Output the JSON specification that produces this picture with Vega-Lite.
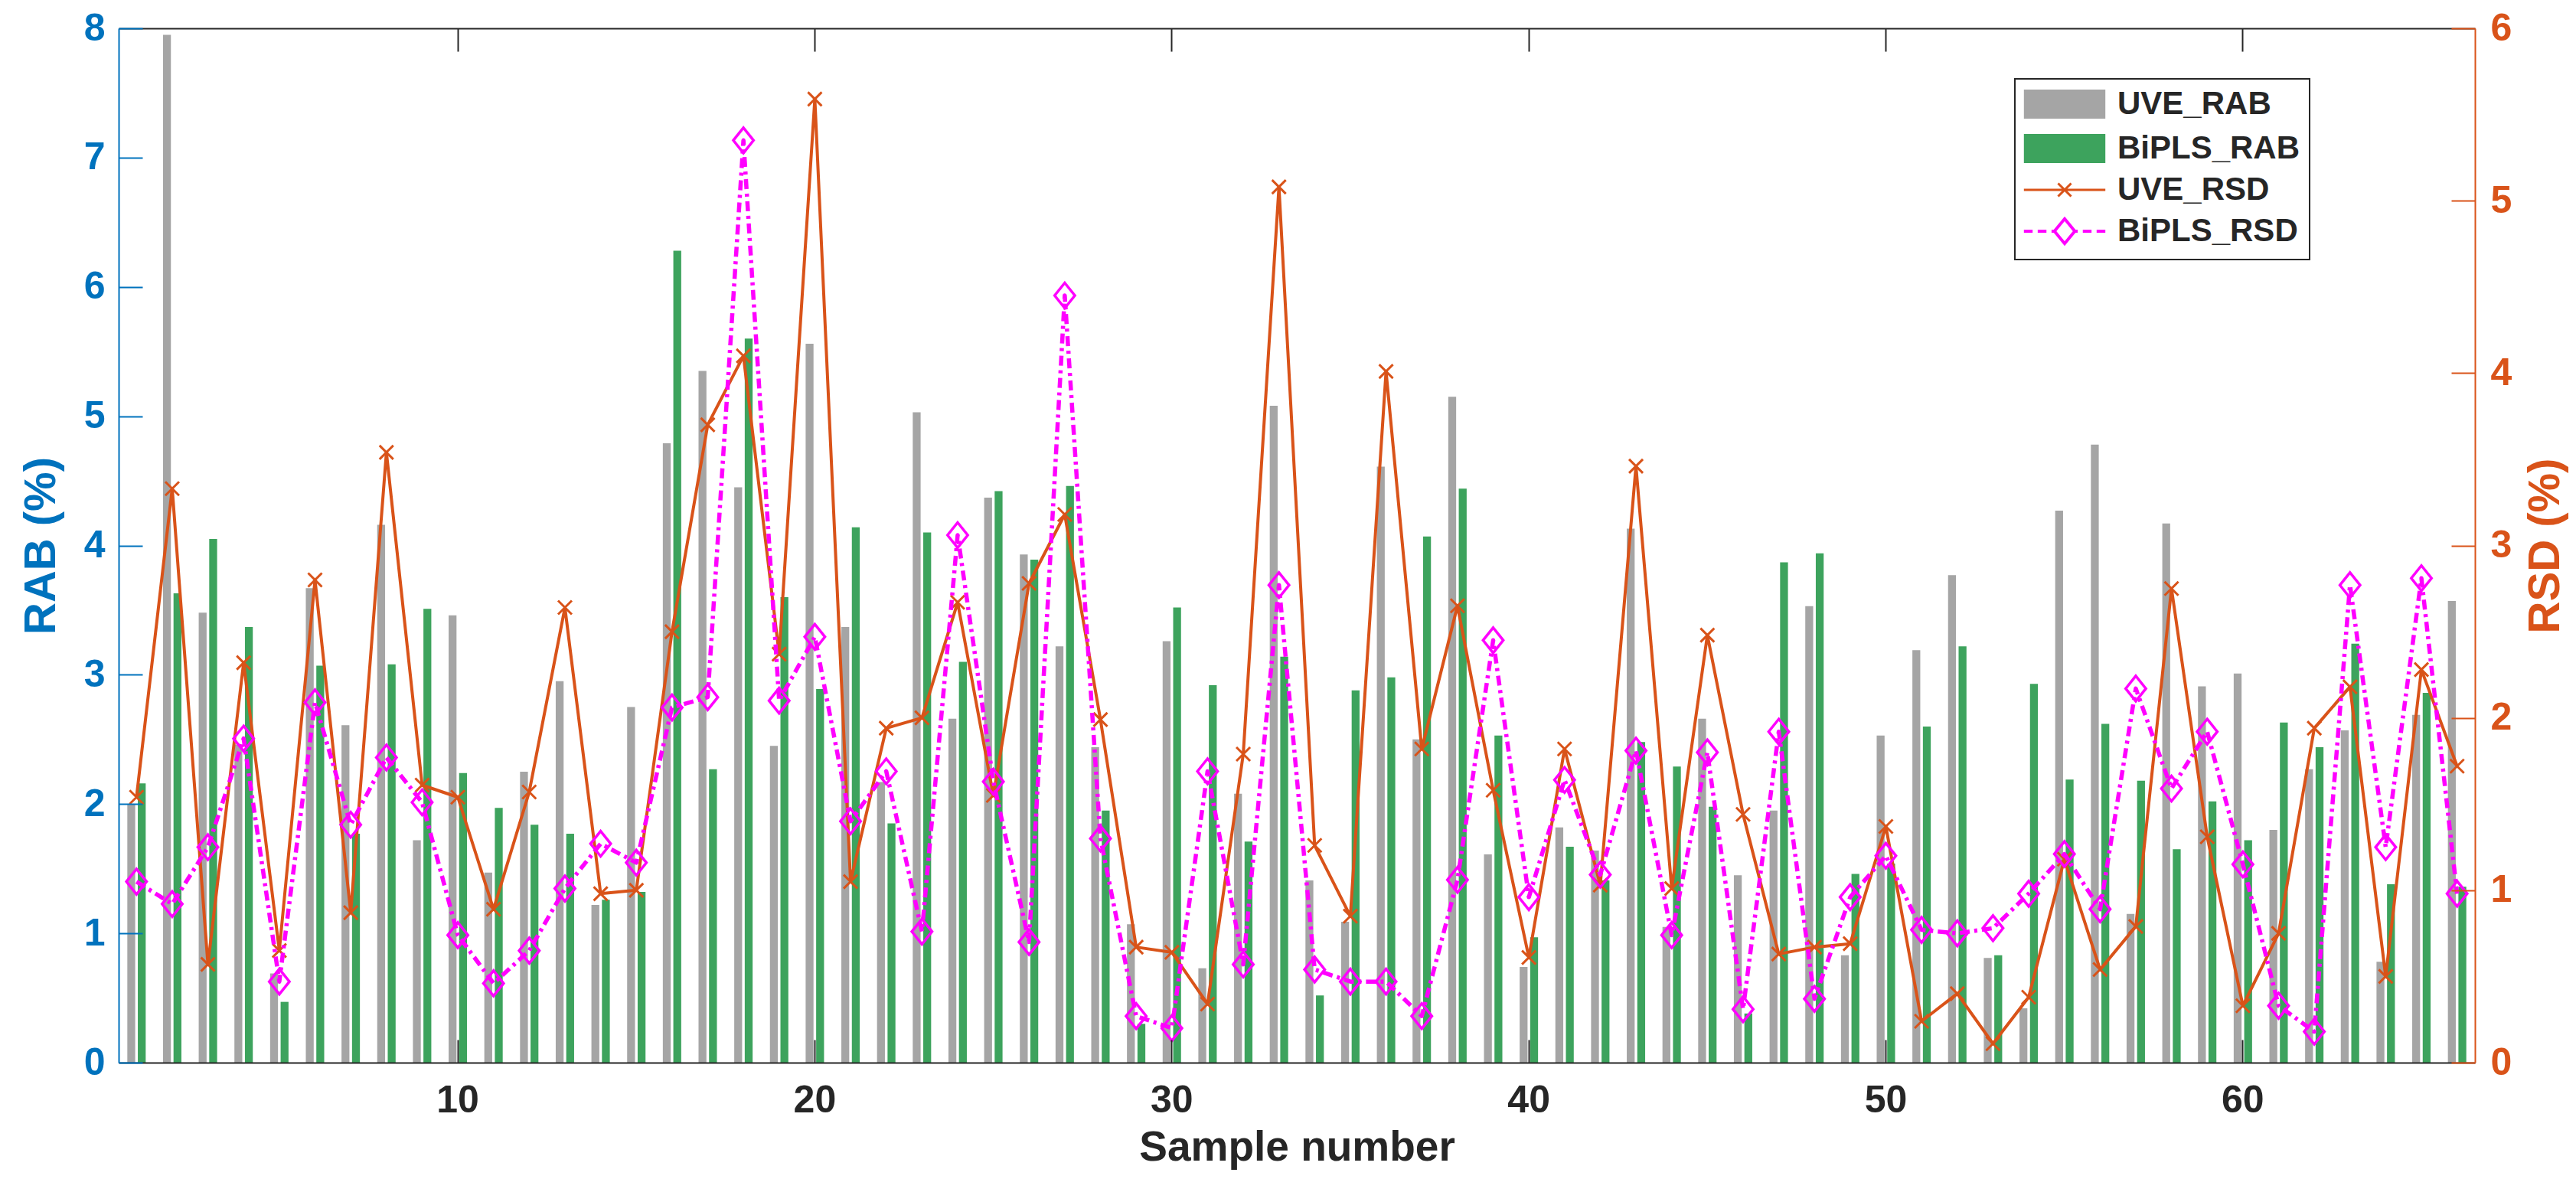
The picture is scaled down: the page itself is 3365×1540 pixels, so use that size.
{
  "$schema": "https://vega.github.io/schema/vega-lite/v6.json",
  "autosize": "none",
  "width": 3078,
  "height": 1351,
  "padding": {"left": 155, "top": 37, "right": 132, "bottom": 152},
  "background": "white",
  "config": {
    "view": {"stroke": null},
    "font": "Liberation Sans",
    "axis": {"grid": false, "labelFlush": false, "labelOverlap": false, "labelFontWeight": "bold", "titleFontWeight": "bold"}
  },
  "data": {
    "values": [
      {"Sample": 1, "UVE_RAB": 2.00, "BiPLS_RAB": 2.16, "UVE_RSD": 1.54, "BiPLS_RSD": 1.05},
      {"Sample": 2, "UVE_RAB": 7.95, "BiPLS_RAB": 3.63, "UVE_RSD": 3.33, "BiPLS_RSD": 0.92},
      {"Sample": 3, "UVE_RAB": 3.48, "BiPLS_RAB": 4.05, "UVE_RSD": 0.57, "BiPLS_RSD": 1.25},
      {"Sample": 4, "UVE_RAB": 2.46, "BiPLS_RAB": 3.37, "UVE_RSD": 2.32, "BiPLS_RSD": 1.88},
      {"Sample": 5, "UVE_RAB": 0.69, "BiPLS_RAB": 0.47, "UVE_RSD": 0.65, "BiPLS_RSD": 0.47},
      {"Sample": 6, "UVE_RAB": 3.67, "BiPLS_RAB": 3.07, "UVE_RSD": 2.80, "BiPLS_RSD": 2.09},
      {"Sample": 7, "UVE_RAB": 2.61, "BiPLS_RAB": 1.77, "UVE_RSD": 0.87, "BiPLS_RSD": 1.38},
      {"Sample": 8, "UVE_RAB": 4.16, "BiPLS_RAB": 3.08, "UVE_RSD": 3.54, "BiPLS_RSD": 1.77},
      {"Sample": 9, "UVE_RAB": 1.72, "BiPLS_RAB": 3.51, "UVE_RSD": 1.61, "BiPLS_RSD": 1.51},
      {"Sample": 10, "UVE_RAB": 3.46, "BiPLS_RAB": 2.24, "UVE_RSD": 1.54, "BiPLS_RSD": 0.74},
      {"Sample": 11, "UVE_RAB": 1.47, "BiPLS_RAB": 1.97, "UVE_RSD": 0.89, "BiPLS_RSD": 0.46},
      {"Sample": 12, "UVE_RAB": 2.25, "BiPLS_RAB": 1.84, "UVE_RSD": 1.57, "BiPLS_RSD": 0.65},
      {"Sample": 13, "UVE_RAB": 2.95, "BiPLS_RAB": 1.77, "UVE_RSD": 2.64, "BiPLS_RSD": 1.01},
      {"Sample": 14, "UVE_RAB": 1.22, "BiPLS_RAB": 1.26, "UVE_RSD": 0.98, "BiPLS_RSD": 1.27},
      {"Sample": 15, "UVE_RAB": 2.75, "BiPLS_RAB": 1.32, "UVE_RSD": 1.00, "BiPLS_RSD": 1.16},
      {"Sample": 16, "UVE_RAB": 4.79, "BiPLS_RAB": 6.28, "UVE_RSD": 2.50, "BiPLS_RSD": 2.06},
      {"Sample": 17, "UVE_RAB": 5.35, "BiPLS_RAB": 2.27, "UVE_RSD": 3.70, "BiPLS_RSD": 2.12},
      {"Sample": 18, "UVE_RAB": 4.45, "BiPLS_RAB": 5.60, "UVE_RSD": 4.10, "BiPLS_RSD": 5.35},
      {"Sample": 19, "UVE_RAB": 2.45, "BiPLS_RAB": 3.60, "UVE_RSD": 2.37, "BiPLS_RSD": 2.10},
      {"Sample": 20, "UVE_RAB": 5.56, "BiPLS_RAB": 2.89, "UVE_RSD": 5.59, "BiPLS_RSD": 2.47},
      {"Sample": 21, "UVE_RAB": 3.37, "BiPLS_RAB": 4.14, "UVE_RSD": 1.05, "BiPLS_RSD": 1.40},
      {"Sample": 22, "UVE_RAB": 2.17, "BiPLS_RAB": 1.85, "UVE_RSD": 1.94, "BiPLS_RSD": 1.69},
      {"Sample": 23, "UVE_RAB": 5.03, "BiPLS_RAB": 4.10, "UVE_RSD": 2.00, "BiPLS_RSD": 0.76},
      {"Sample": 24, "UVE_RAB": 2.66, "BiPLS_RAB": 3.10, "UVE_RSD": 2.67, "BiPLS_RSD": 3.06},
      {"Sample": 25, "UVE_RAB": 4.37, "BiPLS_RAB": 4.42, "UVE_RSD": 1.55, "BiPLS_RSD": 1.63},
      {"Sample": 26, "UVE_RAB": 3.93, "BiPLS_RAB": 3.89, "UVE_RSD": 2.78, "BiPLS_RSD": 0.70},
      {"Sample": 27, "UVE_RAB": 3.22, "BiPLS_RAB": 4.46, "UVE_RSD": 3.18, "BiPLS_RSD": 4.45},
      {"Sample": 28, "UVE_RAB": 2.44, "BiPLS_RAB": 1.95, "UVE_RSD": 1.99, "BiPLS_RSD": 1.30},
      {"Sample": 29, "UVE_RAB": 1.07, "BiPLS_RAB": 0.30, "UVE_RSD": 0.67, "BiPLS_RSD": 0.27},
      {"Sample": 30, "UVE_RAB": 3.26, "BiPLS_RAB": 3.52, "UVE_RSD": 0.64, "BiPLS_RSD": 0.20},
      {"Sample": 31, "UVE_RAB": 0.73, "BiPLS_RAB": 2.92, "UVE_RSD": 0.34, "BiPLS_RSD": 1.69},
      {"Sample": 32, "UVE_RAB": 2.08, "BiPLS_RAB": 1.71, "UVE_RSD": 1.79, "BiPLS_RSD": 0.57},
      {"Sample": 33, "UVE_RAB": 5.08, "BiPLS_RAB": 3.14, "UVE_RSD": 5.08, "BiPLS_RSD": 2.77},
      {"Sample": 34, "UVE_RAB": 1.41, "BiPLS_RAB": 0.52, "UVE_RSD": 1.26, "BiPLS_RSD": 0.54},
      {"Sample": 35, "UVE_RAB": 1.09, "BiPLS_RAB": 2.88, "UVE_RSD": 0.85, "BiPLS_RSD": 0.47},
      {"Sample": 36, "UVE_RAB": 4.61, "BiPLS_RAB": 2.98, "UVE_RSD": 4.01, "BiPLS_RSD": 0.47},
      {"Sample": 37, "UVE_RAB": 2.50, "BiPLS_RAB": 4.07, "UVE_RSD": 1.82, "BiPLS_RSD": 0.27},
      {"Sample": 38, "UVE_RAB": 5.15, "BiPLS_RAB": 4.44, "UVE_RSD": 2.65, "BiPLS_RSD": 1.06},
      {"Sample": 39, "UVE_RAB": 1.61, "BiPLS_RAB": 2.53, "UVE_RSD": 1.58, "BiPLS_RSD": 2.45},
      {"Sample": 40, "UVE_RAB": 0.74, "BiPLS_RAB": 0.97, "UVE_RSD": 0.61, "BiPLS_RSD": 0.96},
      {"Sample": 41, "UVE_RAB": 1.82, "BiPLS_RAB": 1.67, "UVE_RSD": 1.82, "BiPLS_RSD": 1.64},
      {"Sample": 42, "UVE_RAB": 1.64, "BiPLS_RAB": 1.41, "UVE_RSD": 1.03, "BiPLS_RSD": 1.09},
      {"Sample": 43, "UVE_RAB": 4.13, "BiPLS_RAB": 2.48, "UVE_RSD": 3.46, "BiPLS_RSD": 1.81},
      {"Sample": 44, "UVE_RAB": 1.05, "BiPLS_RAB": 2.29, "UVE_RSD": 1.01, "BiPLS_RSD": 0.74},
      {"Sample": 45, "UVE_RAB": 2.66, "BiPLS_RAB": 1.98, "UVE_RSD": 2.48, "BiPLS_RSD": 1.80},
      {"Sample": 46, "UVE_RAB": 1.45, "BiPLS_RAB": 0.38, "UVE_RSD": 1.44, "BiPLS_RSD": 0.31},
      {"Sample": 47, "UVE_RAB": 1.95, "BiPLS_RAB": 3.87, "UVE_RSD": 0.63, "BiPLS_RSD": 1.92},
      {"Sample": 48, "UVE_RAB": 3.53, "BiPLS_RAB": 3.94, "UVE_RSD": 0.67, "BiPLS_RSD": 0.37},
      {"Sample": 49, "UVE_RAB": 0.83, "BiPLS_RAB": 1.46, "UVE_RSD": 0.69, "BiPLS_RSD": 0.96},
      {"Sample": 50, "UVE_RAB": 2.53, "BiPLS_RAB": 1.54, "UVE_RSD": 1.37, "BiPLS_RSD": 1.20},
      {"Sample": 51, "UVE_RAB": 3.19, "BiPLS_RAB": 2.60, "UVE_RSD": 0.24, "BiPLS_RSD": 0.77},
      {"Sample": 52, "UVE_RAB": 3.77, "BiPLS_RAB": 3.22, "UVE_RSD": 0.40, "BiPLS_RSD": 0.75},
      {"Sample": 53, "UVE_RAB": 0.81, "BiPLS_RAB": 0.83, "UVE_RSD": 0.11, "BiPLS_RSD": 0.78},
      {"Sample": 54, "UVE_RAB": 0.42, "BiPLS_RAB": 2.93, "UVE_RSD": 0.38, "BiPLS_RSD": 0.98},
      {"Sample": 55, "UVE_RAB": 4.27, "BiPLS_RAB": 2.19, "UVE_RSD": 1.18, "BiPLS_RSD": 1.21},
      {"Sample": 56, "UVE_RAB": 4.78, "BiPLS_RAB": 2.62, "UVE_RSD": 0.54, "BiPLS_RSD": 0.89},
      {"Sample": 57, "UVE_RAB": 1.15, "BiPLS_RAB": 2.18, "UVE_RSD": 0.79, "BiPLS_RSD": 2.17},
      {"Sample": 58, "UVE_RAB": 4.17, "BiPLS_RAB": 1.65, "UVE_RSD": 2.75, "BiPLS_RSD": 1.59},
      {"Sample": 59, "UVE_RAB": 2.91, "BiPLS_RAB": 2.02, "UVE_RSD": 1.31, "BiPLS_RSD": 1.92},
      {"Sample": 60, "UVE_RAB": 3.01, "BiPLS_RAB": 1.72, "UVE_RSD": 0.33, "BiPLS_RSD": 1.15},
      {"Sample": 61, "UVE_RAB": 1.80, "BiPLS_RAB": 2.63, "UVE_RSD": 0.75, "BiPLS_RSD": 0.33},
      {"Sample": 62, "UVE_RAB": 2.27, "BiPLS_RAB": 2.44, "UVE_RSD": 1.94, "BiPLS_RSD": 0.18},
      {"Sample": 63, "UVE_RAB": 2.57, "BiPLS_RAB": 3.24, "UVE_RSD": 2.18, "BiPLS_RSD": 2.77},
      {"Sample": 64, "UVE_RAB": 0.78, "BiPLS_RAB": 1.38, "UVE_RSD": 0.50, "BiPLS_RSD": 1.25},
      {"Sample": 65, "UVE_RAB": 2.69, "BiPLS_RAB": 2.86, "UVE_RSD": 2.28, "BiPLS_RSD": 2.81},
      {"Sample": 66, "UVE_RAB": 3.57, "BiPLS_RAB": 1.36, "UVE_RSD": 1.72, "BiPLS_RSD": 0.98}
    ]
  },
  "layer": [
    {
      "transform": [{"fold": ["UVE_RAB", "BiPLS_RAB"], "as": ["series", "RAB"]}],
      "mark": {"type": "bar", "opacity": 1},
      "encoding": {
        "x": {
          "field": "Sample",
          "type": "ordinal",
          "scale": {"type": "band", "paddingInner": 0.485, "paddingOuter": 0.2425},
          "axis": {
            "orient": "bottom",
            "values": [10, 20, 30, 40, 50, 60],
            "labelAngle": 0,
            "title": "Sample number",
            "titleFontSize": 55,
            "titleColor": "#262626",
            "titlePadding": 10,
            "labelFontSize": 50,
            "labelColor": "#262626",
            "labelPadding": 54,
            "domainColor": "#262626",
            "domainWidth": 2,
            "tickColor": "#262626",
            "tickWidth": 2,
            "tickSize": -30,
            "zindex": 1
          }
        },
        "xOffset": {
          "field": "series",
          "type": "nominal",
          "scale": {"domain": ["UVE_RAB", "BiPLS_RAB"], "paddingInner": 0.25, "paddingOuter": 0}
        },
        "y": {
          "field": "RAB",
          "type": "quantitative",
          "scale": {"domain": [0, 8], "nice": false},
          "axis": {
            "orient": "left",
            "values": [0, 1, 2, 3, 4, 5, 6, 7, 8],
            "title": "RAB (%)",
            "titleFontSize": 58,
            "titleColor": "#0072BD",
            "titlePadding": 26,
            "labelFontSize": 50,
            "labelColor": "#0072BD",
            "labelPadding": 49,
            "domainColor": "#0072BD",
            "domainWidth": 2,
            "tickColor": "#0072BD",
            "tickWidth": 2,
            "tickSize": -31,
            "zindex": 1
          }
        },
        "color": {
          "field": "series",
          "type": "nominal",
          "scale": {
            "domain": ["UVE_RAB", "BiPLS_RAB", "UVE_RSD", "BiPLS_RSD"],
            "range": ["#A5A5A5", "#3DA35D", "transparent", "transparent"]
          },
          "legend": {
            "orient": "none",
            "legendX": 2477,
            "legendY": 66,
            "title": null,
            "direction": "vertical",
            "strokeColor": "#262626",
            "fillColor": "white",
            "padding": 12,
            "labelFontSize": 42,
            "labelFontWeight": "bold",
            "labelColor": "#262626",
            "labelLimit": 600,
            "labelOffset": 80,
            "symbolSize": 1444,
            "symbolOpacity": 1,
            "rowPadding": 8,
            "encode": {
              "legend": {"update": {"strokeWidth": {"value": 2}}},
              "symbols": {
                "update": {
                  "x": {"value": 53},
                  "shape": {"signal": "datum.value === 'UVE_RAB' || datum.value === 'BiPLS_RAB' ? 'M-2.8,-1H2.8V1H-2.8Z' : datum.value === 'UVE_RSD' ? 'M-2.8,0H2.8M-0.45,-0.45L0.45,0.45M-0.45,0.45L0.45,-0.45' : 'M-2.8,0H-2.2M-1.85,0H-1.25M-0.9,0H-0.7M0.7,0H0.9M1.25,0H1.85M2.2,0H2.8M0,-0.85L0.7,0L0,0.85L-0.7,0Z'"},
                  "stroke": {"signal": "datum.value === 'UVE_RSD' ? '#D95319' : datum.value === 'BiPLS_RSD' ? '#FF00FF' : 'transparent'"},
                  "strokeWidth": {"signal": "datum.value === 'BiPLS_RSD' ? 4 : 3"},
                  "opacity": {"value": 1}
                }
              }
            }
          }
        }
      }
    },
    {
      "mark": {"type": "line", "color": "#D95319", "strokeWidth": 4, "strokeJoin": "round"},
      "encoding": {
        "x": {
          "field": "Sample",
          "type": "ordinal",
          "scale": {"type": "band"},
          "axis": {
            "orient": "top",
            "values": [10, 20, 30, 40, 50, 60],
            "labels": false,
            "title": null,
            "domainColor": "#262626",
            "domainWidth": 2,
            "tickColor": "#262626",
            "tickWidth": 2,
            "tickSize": -30
          }
        },
        "y": {
          "field": "UVE_RSD",
          "type": "quantitative",
          "scale": {"domain": [0, 6], "nice": false},
          "axis": {
            "orient": "right",
            "values": [0, 1, 2, 3, 4, 5, 6],
            "title": "RSD (%)",
            "titleAngle": 270,
            "titleBaseline": "top",
            "titleFontSize": 58,
            "titleColor": "#D95319",
            "titlePadding": 16,
            "labelFontSize": 50,
            "labelColor": "#D95319",
            "labelPadding": 51,
            "domainColor": "#D95319",
            "domainWidth": 2,
            "tickColor": "#D95319",
            "tickWidth": 2,
            "tickSize": -31,
            "zindex": 1
          }
        }
      }
    },
    {
      "mark": {"type": "point", "shape": "M-1,-1L1,1M-1,1L1,-1", "size": 324, "filled": false, "color": "#D95319", "strokeWidth": 3, "opacity": 1},
      "encoding": {
        "x": {"field": "Sample", "type": "ordinal", "scale": {"type": "band"}, "axis": null},
        "y": {"field": "UVE_RSD", "type": "quantitative", "scale": {"domain": [0, 6], "nice": false}, "axis": null}
      }
    },
    {
      "mark": {"type": "line", "color": "#FF00FF", "strokeWidth": 5.5, "strokeDash": [13, 6, 4, 6], "strokeJoin": "round"},
      "encoding": {
        "x": {"field": "Sample", "type": "ordinal", "scale": {"type": "band"}, "axis": null},
        "y": {"field": "BiPLS_RSD", "type": "quantitative", "scale": {"domain": [0, 6], "nice": false}, "axis": null}
      }
    },
    {
      "mark": {"type": "point", "shape": "M0,-1L0.8,0L0,1L-0.8,0Z", "size": 1089, "filled": false, "color": "#FF00FF", "strokeWidth": 3.5, "opacity": 1},
      "encoding": {
        "x": {"field": "Sample", "type": "ordinal", "scale": {"type": "band"}, "axis": null},
        "y": {"field": "BiPLS_RSD", "type": "quantitative", "scale": {"domain": [0, 6], "nice": false}, "axis": null}
      }
    }
  ],
  "resolve": {"scale": {"y": "independent"}}
}
